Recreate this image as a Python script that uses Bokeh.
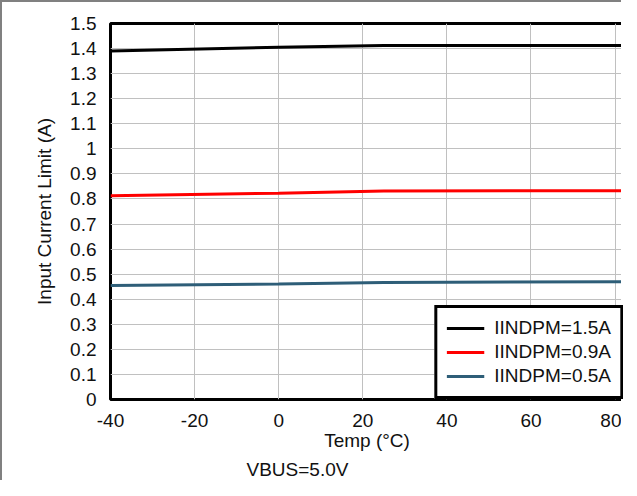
from bokeh.plotting import figure
from bokeh.models import FixedTicker, CustomJSTickFormatter, Legend, LegendItem, Title, Range1d
from bokeh.embed import file_html
from bokeh.resources import INLINE

temps = [-40, 0, 25, 85]
i_15 = [1.390, 1.405, 1.412, 1.412]
i_09 = [0.813, 0.823, 0.832, 0.833]
i_05 = [0.455, 0.461, 0.467, 0.470]
series_labels = ["IINDPM=1.5A", "IINDPM=0.9A", "IINDPM=0.5A"]
x_ticks = [-40, -20, 0, 20, 40, 60, 80]
y_ticks = [round(i * 0.1, 1) for i in range(16)]
caption = "VBUS=5.0V"

FONT = "Liberation Sans"
TXT = "#111111"

p = figure(width=621, height=480, output_backend="svg", toolbar_location=None,
           x_range=Range1d(-40, 82), y_range=Range1d(0, 1.5),
           min_border_left=108, min_border_right=0, min_border_top=21, min_border_bottom=78)
p.styles = {"border-top": "2px solid #808080", "border-left": "2px solid #808080"}

p.outline_line_color = "black"
p.outline_line_width = 3
p.outline_line_alpha = 1
p.background_fill_color = "white"
p.border_fill_color = "white"

for ax in (p.xaxis[0], p.yaxis[0]):
    ax.axis_line_color = None
    ax.major_tick_line_color = None
    ax.minor_tick_line_color = None
    ax.major_label_text_font = FONT
    ax.major_label_text_font_size = "19px"
    ax.major_label_text_color = TXT
    ax.axis_label_text_font = FONT
    ax.axis_label_text_font_size = "19px"
    ax.axis_label_text_font_style = "normal"
    ax.axis_label_text_color = TXT

p.xaxis.ticker = FixedTicker(ticks=x_ticks)
p.yaxis.ticker = FixedTicker(ticks=y_ticks)
p.xaxis.formatter = CustomJSTickFormatter(code="return String(tick);")
p.yaxis.formatter = CustomJSTickFormatter(code="return tick.toFixed(1).replace(/\\.0$/, '');")
p.xaxis.major_label_standoff = 8
p.yaxis.major_label_standoff = 8
p.xaxis.axis_label = "Temp (°C)"
p.yaxis.axis_label = "Input Current Limit (A)"
p.xaxis.axis_label_standoff = 0
p.yaxis.axis_label_standoff = 12

p.grid.grid_line_color = "#c0c0c0"
p.grid.grid_line_width = 1

r1 = p.line(temps, i_15, line_color="black", line_width=3)
r2 = p.line(temps, i_09, line_color="#ff0000", line_width=3)
r3 = p.line(temps, i_05, line_color="#2e5e78", line_width=3)

legend = Legend(items=[LegendItem(label=series_labels[0], renderers=[r1]),
                       LegendItem(label=series_labels[1], renderers=[r2]),
                       LegendItem(label=series_labels[2], renderers=[r3])],
                location="bottom_right")
legend.label_text_font = FONT
legend.label_text_font_size = "19px"
legend.label_text_color = TXT
legend.border_line_color = "black"
legend.border_line_width = 3
legend.border_line_alpha = 1
legend.background_fill_color = "white"
legend.background_fill_alpha = 1
legend.glyph_width = 38
legend.glyph_height = 20
legend.label_height = 20
legend.spacing = 2
legend.padding = 9
legend.margin = 0
legend.label_standoff = 10
p.add_layout(legend, "center")

cap = Title(text=caption, align="left", offset=136, standoff=6,
            text_font=FONT, text_font_size="19px", text_font_style="normal", text_color=TXT)
p.add_layout(cap, "below")

open("out.html", "w").write(file_html(p, INLINE))
